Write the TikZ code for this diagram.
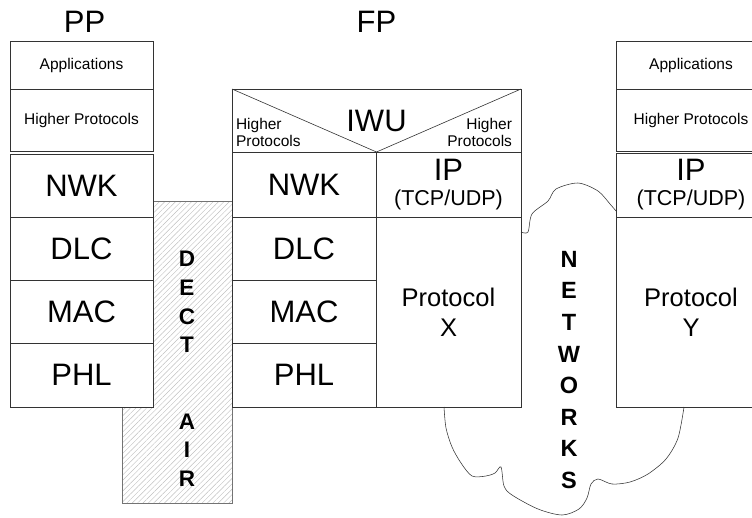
\documentclass[tikz,border=0pt]{standalone}
\usepackage{fontspec}
\setmainfont{Liberation Sans}
\usepackage{xcolor}
\usetikzlibrary{positioning, patterns.meta}

\begin{document}
\begin{tikzpicture}[
    x=1pt, y=-1pt,
    every node/.style={
        inner sep=0pt,
        outer sep=0pt
    },
    layer/.style={
        draw=linecolor,
        fill=white,
        line width=0.8pt,
        rectangle,
        align=center,
        minimum width=143pt,
        font=\fontsize{31}{31}\selectfont
    },
    smalllayer/.style={
        layer,
        font=\fontsize{15.5}{17}\selectfont
    },
    protolayer/.style={
        layer,
        font=\fontsize{25.5}{30}\selectfont
    },
    minilabel/.style={
        font=\fontsize{15.5}{17}\selectfont
    },
    stacklabel/.style={
        font=\fontsize{31}{31}\selectfont
    },
    airbox/.style={
        draw=black!55,
        line width=0.6pt,
        pattern={Lines[angle=45, distance=3.8pt, line width=0.45pt]},
        pattern color=black!25
    },
    airtext/.style={
        align=center,
        font=\fontsize{22.5}{28.7}\selectfont\bfseries
    },
    nettext/.style={
        align=center,
        font=\fontsize{23.5}{31.6}\selectfont\bfseries
    },
    thinline/.style={draw=linecolor, line width=0.6pt},
    cloudline/.style={draw=linecolor, line width=0.55pt}
]

%--- Color Definitions ---%
\definecolor{linecolor}{RGB}{51,51,51}

\useasboundingbox (0,0) rectangle (752,517);

%-----------------------------------------------
% DECT AIR (behind the stacks)
%-----------------------------------------------
\node[airbox, minimum width=110pt, minimum height=302pt]
    (airgap) at (177,352) {};

%-----------------------------------------------
% PP STACK
%-----------------------------------------------
\node[smalllayer, minimum height=48pt]
    (app1) at (81.5,65) {Applications};
\node[smalllayer, minimum height=62pt, below=0pt of app1]
    (hp1) {Higher Protocols};
\node[layer, minimum height=63pt, below=3pt of hp1]
    (nwk1) {NWK};
\node[layer, minimum height=63pt, below=0pt of nwk1]
    (dlc1) {DLC};
\node[layer, minimum height=63pt, below=0pt of dlc1]
    (mac1) {MAC};
\node[layer, minimum height=64pt, below=0pt of mac1]
    (phl1) {PHL};

\node[stacklabel, above=9pt of app1, xshift=3pt]
    (pplabel) {PP};

%-----------------------------------------------
% FP STACK
%-----------------------------------------------
\node[layer, minimum width=289pt, minimum height=63pt]
    (iwu) at (376.5,120.5) {IWU};

\node[layer, minimum width=144pt, minimum height=65pt,
      below right=0pt of iwu.south west]
    (nwk2) {NWK};
\node[layer, minimum width=144pt, minimum height=63.33pt, below=0pt of nwk2]
    (dlc2) {DLC};
\node[layer, minimum width=144pt, minimum height=63.33pt, below=0pt of dlc2]
    (mac2) {MAC};
\node[layer, minimum width=144pt, minimum height=63.33pt, below=0pt of mac2]
    (phl2) {PHL};

\node[layer, minimum width=145pt, minimum height=65pt,
      font=\fontsize{31}{25}\selectfont,
      below left=0pt of iwu.south east]
    (ip1) {IP\\{\fontsize{21.5}{25}\selectfont (TCP/UDP)}};
\node[protolayer, minimum width=145pt, minimum height=190pt, below=0pt of ip1]
    (protx) {Protocol\\X};

\draw[thinline] (iwu.north west) -- (iwu.south) -- (iwu.north east);

\node[minilabel, align=left, anchor=south west]
    (hpleft) at ([xshift=4pt, yshift=5pt]iwu.south west) {Higher\\Protocols};
\node[minilabel, align=right, anchor=south east]
    (hpright) at ([xshift=-9pt, yshift=5pt]iwu.south east) {Higher\\Protocols};

\node[stacklabel, above=57pt of iwu]
    (fplabel) {FP};

%-----------------------------------------------
% RIGHT STACK
%-----------------------------------------------
\node[smalllayer, minimum width=150pt, minimum height=48pt]
    (app2) at (691,65) {Applications};
\node[smalllayer, minimum width=150pt, minimum height=62pt, below=0pt of app2]
    (hp2) {Higher Protocols};
\node[layer, minimum width=150pt, minimum height=64pt,
      font=\fontsize{31}{25}\selectfont,
      below=2pt of hp2]
    (ip2) {IP\\{\fontsize{21.5}{25}\selectfont (TCP/UDP)}};
\node[protolayer, minimum width=150pt, minimum height=190pt, below=0pt of ip2]
    (proty) {Protocol\\Y};

%-----------------------------------------------
% VERTICAL WORDS
%-----------------------------------------------
\node[airtext] (dect) at (187,302) {D\\E\\C\\T};
\node[airtext] (airword) at (187,450) {A\\I\\R};
\node[nettext] (networks) at (569,370) {N\\E\\T\\W\\O\\R\\K\\S};

%-----------------------------------------------
% NETWORK CLOUD
%-----------------------------------------------
\draw[cloudline] plot[smooth, tension=0.5] coordinates {
    (521,232) (528,232) (532,214) (548,201) (556,189) (578,183)
    (598,191) (610,204) (616,211)};

\draw[cloudline] plot[smooth, tension=0.5] coordinates {
    (444,407) (446,428) (452,447) (461,463) (472,476) (486,476)
    (495,473) (501,467) (504,486) (512,495) (538,509) (562,515)
    (579,509) (587,498) (591,484) (598,479) (612,484) (630,482)
    (648,474) (666,459) (678,438) (684,407)};

\end{tikzpicture}
\end{document}
